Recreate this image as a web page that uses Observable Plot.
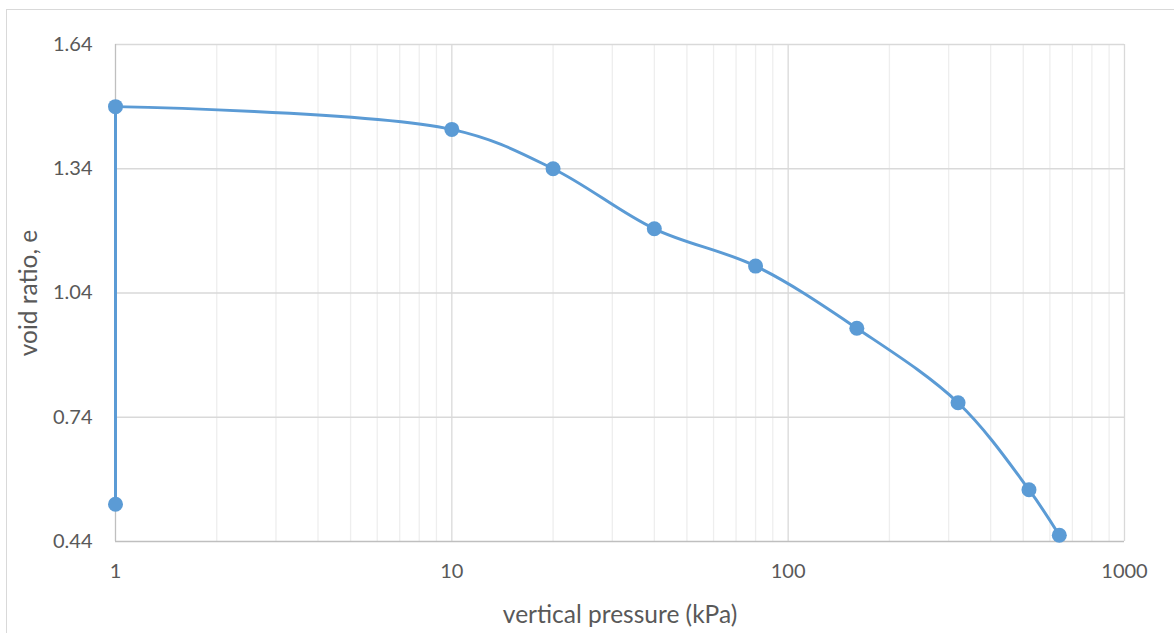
<!DOCTYPE html>
<html>
<head>
<meta charset="utf-8">
<script src="https://cdn.jsdelivr.net/npm/d3@7"></script>
<script src="https://cdn.jsdelivr.net/npm/@observablehq/plot@0.6"></script>
<style>
  html, body { margin: 0; padding: 0; background: #fff; overflow: hidden; }
  #wrap { position: relative; width: 1174px; height: 633px; }
  #border { position: absolute; left: 6px; top: 9px; width: 1200px; height: 700px; border: 1px solid #d9d9d9; box-sizing: border-box; }
  #chart { position: absolute; left: 0; top: 0; }
</style>
</head>
<body>
<div id="wrap"><div id="border"></div><div id="chart"></div></div>
<script>
const pressure = [1, 1, 10, 20, 40, 80, 160, 320, 520, 640];
const voidRatio = [0.53, 1.49, 1.435, 1.34, 1.195, 1.105, 0.955, 0.775, 0.565, 0.455];
const xTicks = [1, 10, 100, 1000];
const xMinor = [2,3,4,5,6,7,8,9,20,30,40,50,60,70,80,90,200,300,400,500,600,700,800,900];
const yTicks = [0.44, 0.74, 1.04, 1.34, 1.64];
const xTitle = "vertical pressure (kPa)";
const yTitle = "void ratio, e";

const data = pressure.map((p, i) => ({p, e: voidRatio[i]}));
const firstLeg = data.slice(0, 2);   // vertical rebound leg, straight in the reference
const curveLeg = data.slice(1);      // smoothed loading curve

const font = "Lato, 'Open Sans', sans-serif";
const chart = Plot.plot({
  width: 1174,
  height: 633,
  marginLeft: 115,
  marginRight: 50,
  marginTop: 44,
  marginBottom: 92,
  style: {fontFamily: font, fontSize: "20px", color: "#595959", background: "transparent"},
  x: {type: "log", domain: [1, 1000], label: null},
  y: {domain: [0.44, 1.64], label: null},
  marks: [
    Plot.ruleX(xMinor, {stroke: "#eeeeee", strokeWidth: 1.3}),
    Plot.ruleX([10, 100], {stroke: "#d9d9d9", strokeWidth: 1.3}),
    Plot.ruleY(yTicks.slice(1, -1), {stroke: "#d9d9d9", strokeWidth: 1.3}),
    Plot.ruleY([1.64], {stroke: "#d9d9d9", strokeWidth: 1.3}),
    Plot.ruleX([1000], {stroke: "#d9d9d9", strokeWidth: 1.3}),
    Plot.ruleX([1], {stroke: "#bfbfbf", strokeWidth: 1.3}),
    Plot.ruleY([0.44], {stroke: "#bfbfbf", strokeWidth: 1.3}),
    Plot.axisX({ticks: xTicks, tickFormat: d => String(d), tickSize: 0, tickPadding: 22, fontSize: 20, fill: "#595959", label: null}),
    Plot.axisY({ticks: yTicks, tickFormat: d => d.toFixed(2), tickSize: 0, tickPadding: 23, fontSize: 20, fill: "#595959", label: null}),
    Plot.text([xTitle], {frameAnchor: "bottom", dy: 81, fontSize: 24.5, fill: "#595959", fontFamily: font}),
    Plot.text([yTitle], {frameAnchor: "left", textAnchor: "middle", dx: -86, rotate: -90, fontSize: 24.5, fill: "#595959", fontFamily: font}),
    Plot.line(firstLeg, {x: "p", y: "e", stroke: "#5b9bd5", strokeWidth: 3}),
    Plot.line(curveLeg, {x: "p", y: "e", stroke: "#5b9bd5", strokeWidth: 3, curve: "catmull-rom"}),
    Plot.dot(data, {x: "p", y: "e", r: 7.5, fill: "#5b9bd5", stroke: "none"})
  ]
});
document.getElementById("chart").appendChild(chart);
</script>
</body>
</html>
